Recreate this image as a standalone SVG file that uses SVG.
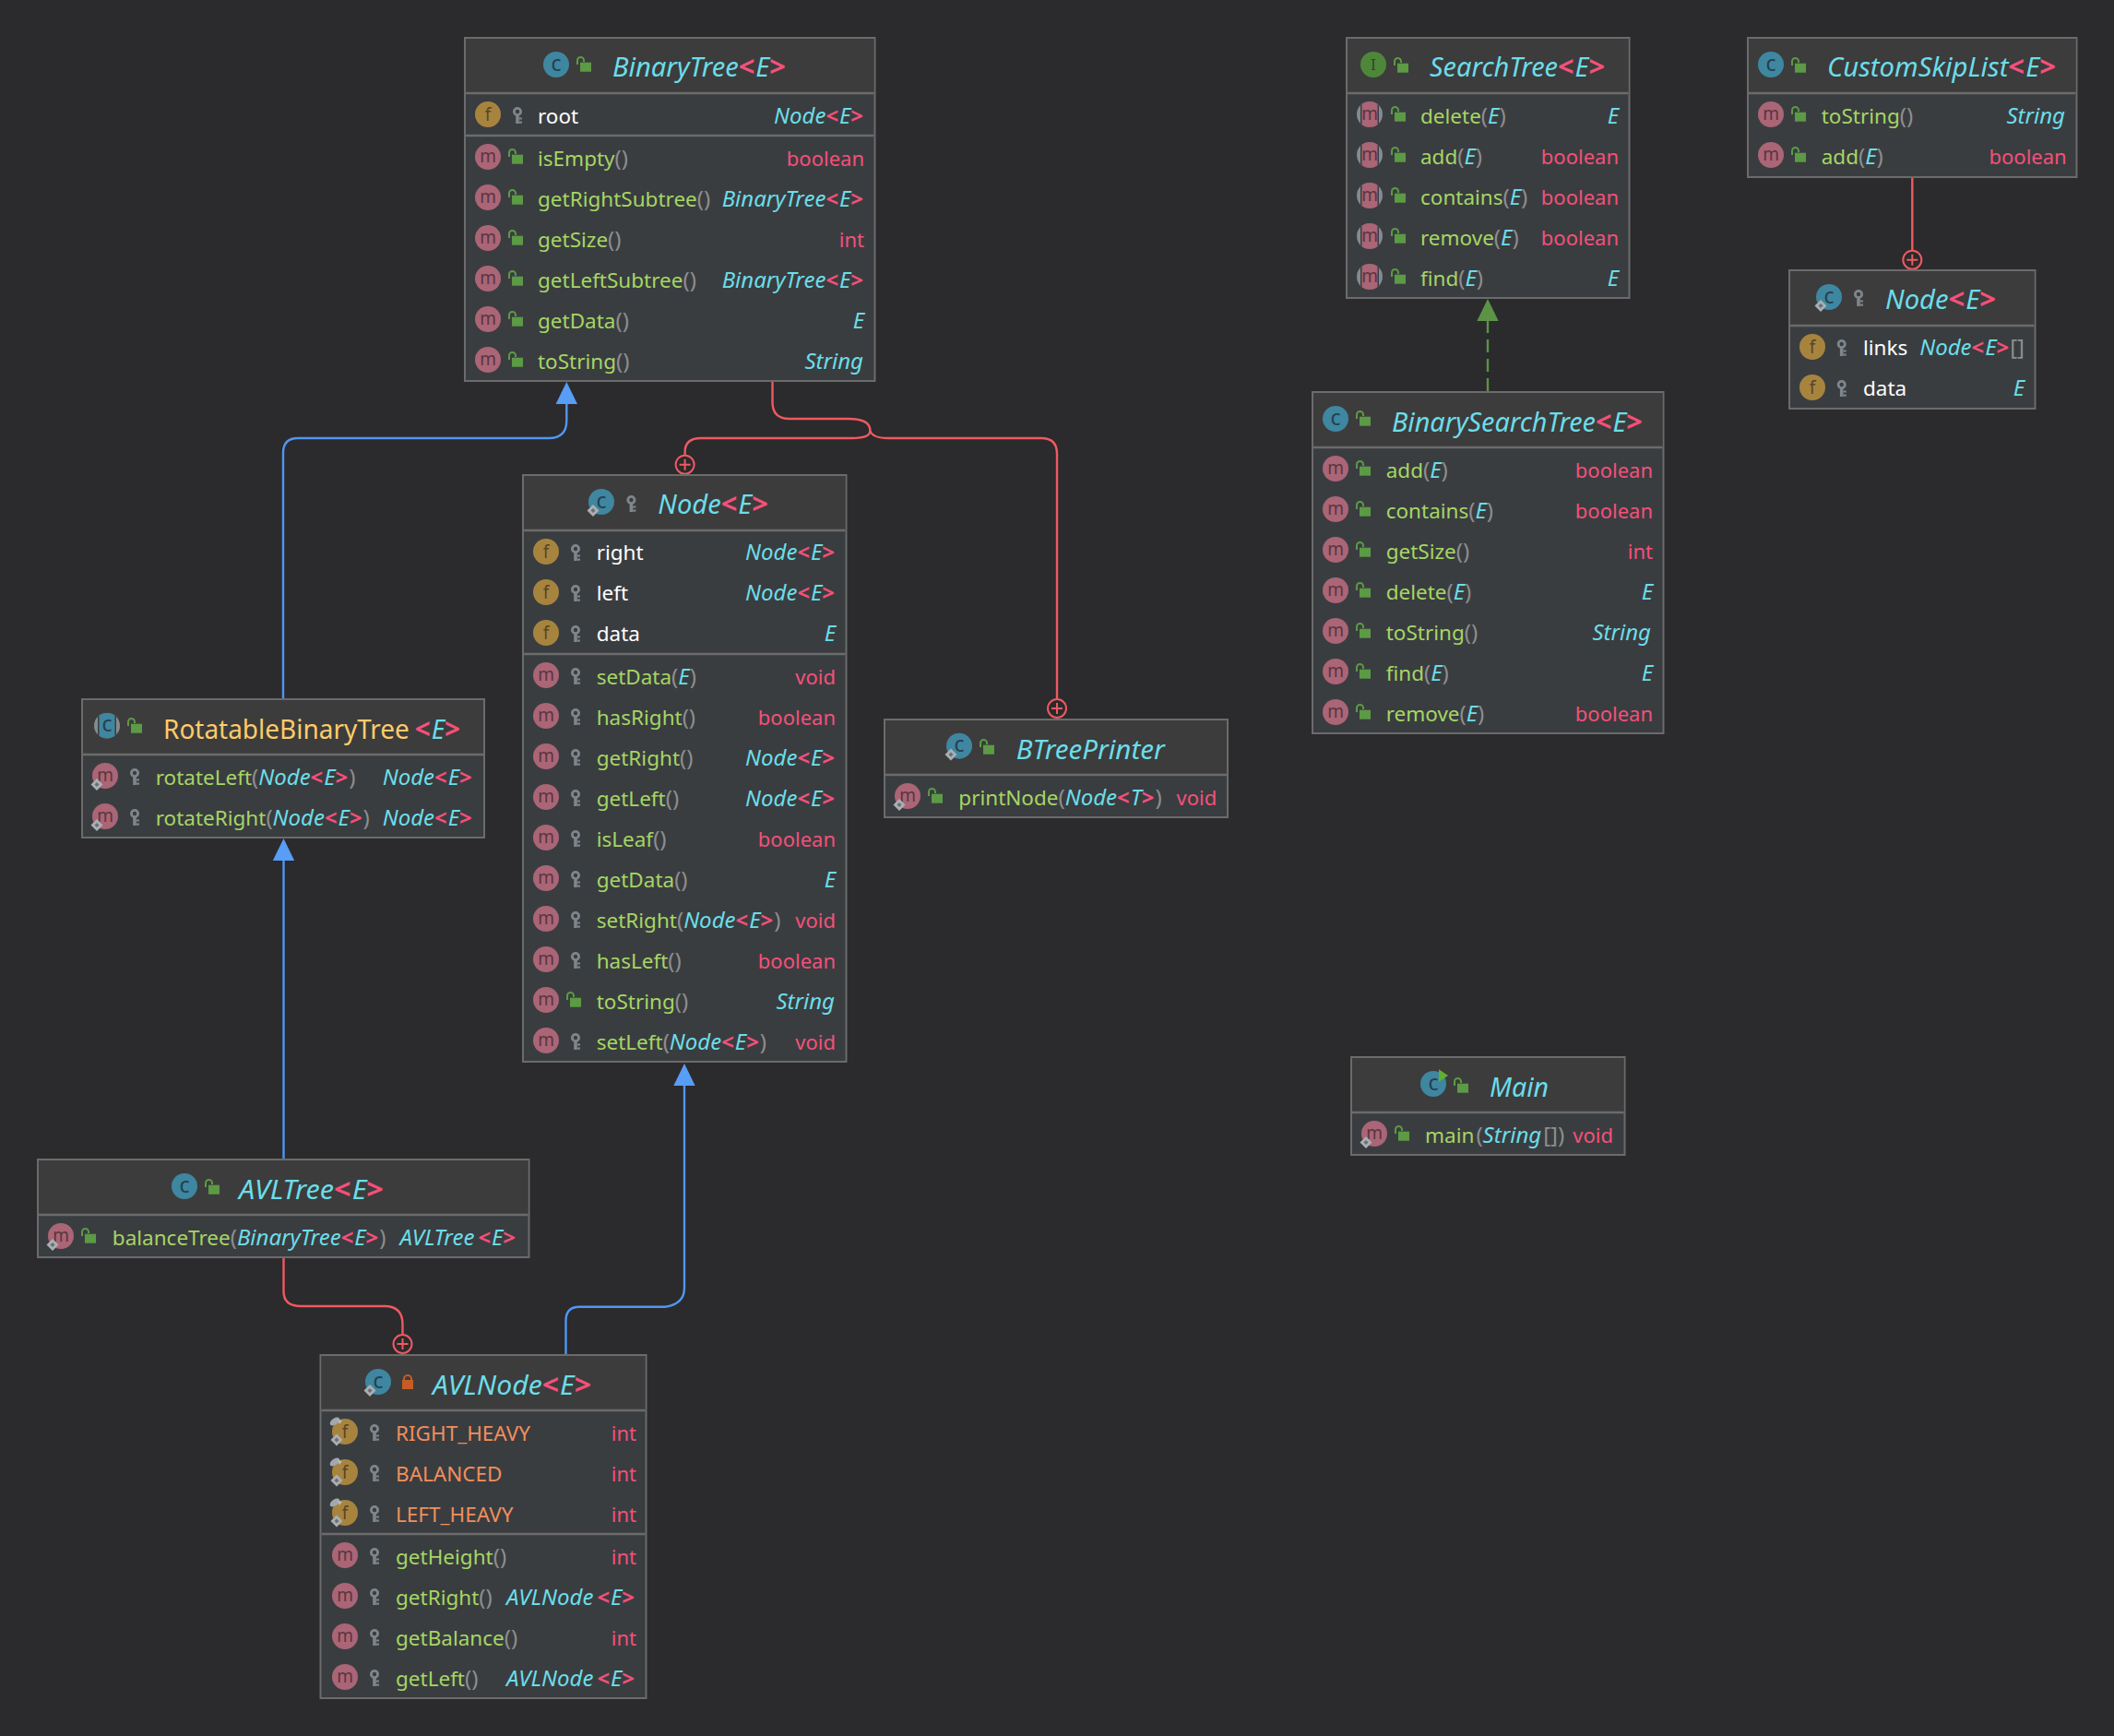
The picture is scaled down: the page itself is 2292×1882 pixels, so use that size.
<svg xmlns="http://www.w3.org/2000/svg" width="2292" height="1882" viewBox="0 0 2292 1882">
<style>
text{font-family:"Noto Sans","Open Sans","Liberation Sans",sans-serif;font-size:22.500px;white-space:pre}
.ti{font-size:28.500px;font-style:italic;fill:#6CDDE9}
.e{text-anchor:end}
.g{fill:#A5D664}.w{fill:#FFFFFF}.c{fill:#6CDDE9;font-style:italic;font-size:24px}.k{fill:#F4507A;font-weight:700;font-style:normal;letter-spacing:1px;font-size:1.060em}
.n{fill:#F4507A;font-size:22px}.p{fill:#8E8E8E;font-size:24px}.o{fill:#F08F5C}.y{fill:#FFCB6B;font-style:normal}
.box{fill:#3A3D40;stroke:#6B6B6B;stroke-width:2}
.hd{fill:#3C3C3C}
.sep{stroke:#6B6B6B;stroke-width:2.400}
.il{font-size:19px;text-anchor:middle}
.ic{font-size:23px;text-anchor:middle}
.con{fill:none;stroke-width:2.400}
.red{stroke:#EE5A60}.blue{stroke:#4F97F2}.grn{stroke:#5C9346;stroke-dasharray:14 7}
</style>
<defs>
<clipPath id="cl"><circle r="14"/></clipPath>
<g id="m"><circle r="14" fill="#AA6576"/><text class="il" y="6" fill="#5B3540">m</text></g>
<g id="f"><circle r="14" fill="#A7843E"/><text class="il" y="7" fill="#5A4526">f</text></g>
<g id="cI"><circle r="14" fill="#3F86A1"/><text class="ic" y="6.500" fill="#24404E">c</text></g>
<g id="iI"><circle r="14" fill="#4E8739"/><text y="6" text-anchor="middle" fill="#2B4A20" style="font-family:'DejaVu Serif',serif;font-size:16px">I</text></g>
<g id="am"><g clip-path="url(#cl)"><rect x="-14" y="-14" width="28" height="28" fill="#848A90"/><rect x="-10" y="-14" width="20" height="28" fill="#3A3D40"/><rect x="-8.500" y="-14" width="17" height="28" fill="#AA6576"/></g><text class="il" y="6" fill="#5B3540">m</text></g>
<g id="ac"><g clip-path="url(#cl)"><rect x="-14" y="-14" width="28" height="28" fill="#848A90"/><rect x="-10" y="-14" width="20" height="28" fill="#3C3C3C"/><rect x="-8.500" y="-14" width="17" height="28" fill="#3F86A1"/></g><text class="ic" y="6.500" fill="#24404E">c</text></g>
<g id="dm"><polygon points="0,-6.500 6.500,0 0,6.500 -6.500,0" fill="#A9AFB3"/><polygon points="0,-2.500 2.500,0 0,2.500 -2.500,0" fill="#6B6E72"/></g>
<g id="pin"><ellipse rx="6" ry="3.500" transform="rotate(-35)" fill="#A2A8AD"/><polygon points="3,-2 8,-1 5,3" fill="#B9BDC0"/></g>
<g id="pub"><rect x="-4" y="-2.300" width="12" height="10" fill="#5C9A45"/><path d="M-7 0V-4.500a3.500 3.500 0 0 1 7 0V-3" fill="none" stroke="#5C9A45" stroke-width="2"/></g>
<g id="pri"><rect x="-6" y="-2" width="12" height="10" fill="#C65C24"/><path d="M-4-2V-3a4 4 0 0 1 8 0V-2" fill="none" stroke="#C65C24" stroke-width="2"/></g>
<g id="key" fill="#7E868C"><circle cy="-3" r="3.600" fill="none" stroke="#7E868C" stroke-width="2.800"/><rect x="-1.800" y="0" width="3.600" height="10"/><rect x="1.800" y="3.500" width="3.200" height="2"/><rect x="1.800" y="7.500" width="3.200" height="2.200"/></g>
<marker id="ab" viewBox="0 0 24 24" refX="0" refY="12" markerWidth="24" markerHeight="24" markerUnits="userSpaceOnUse" orient="auto"><path d="M0 0.300L24 12L0 23.700Z" fill="#589DF6"/></marker>
<marker id="ag" viewBox="0 0 24 24" refX="0" refY="12" markerWidth="24" markerHeight="24" markerUnits="userSpaceOnUse" orient="auto"><path d="M0 0.300L24 12L0 23.700Z" fill="#5C9346"/></marker>
<marker id="pl" viewBox="0 0 24 24" refX="1.500" refY="12" markerWidth="24" markerHeight="24" markerUnits="userSpaceOnUse" orient="auto"><circle cx="12" cy="12" r="10" fill="#2B2A2D" stroke="#EE5A60" stroke-width="2"/><path d="M6 12H18M12 6V18" stroke="#EE5A60" stroke-width="2" fill="none"/></marker>
</defs>
<rect width="2292" height="1882" fill="#2B2A2D"/>
<g id="connectors">
<path class="con blue" d="M307 758V491Q307 475 323 475H595Q614.300 475 614.300 456V438" marker-end="url(#ab)"/>
<path class="con blue" d="M307.500 1257V933" marker-end="url(#ab)"/>
<path class="con blue" d="M613.500 1468V1432Q613.500 1416.700 628 1416.700H721Q742 1414 742 1396V1177" marker-end="url(#ab)"/>
<path class="con grn" d="M1613 424V348" marker-end="url(#ag)"/>
<path class="con red" d="M307.500 1363V1400Q307.500 1416 326 1416H417Q436.500 1416 436.500 1436V1446.500" marker-end="url(#pl)"/>
<path class="con red" d="M837.500 413V436Q837.500 454 856 454H920Q943.400 454 943.400 467Q943.400 475 924 475H760Q742.600 475 742.600 490V493.200" marker-end="url(#pl)"/>
<path class="con red" d="M943.400 467Q946 475 963 475H1129Q1146 475 1146 492V757.500" marker-end="url(#pl)"/>
<path class="con red" d="M2073.300 192V271.200" marker-end="url(#pl)"/>
</g>
<g id="node-BinaryTree">
<rect class="box" x="504" y="41" width="444.500" height="372"/><rect class="hd" x="505" y="42" width="442.500" height="59"/><line class="sep" x1="505" x2="947.500" y1="101" y2="101"/><line class="sep" x1="505" x2="947.500" y1="147" y2="147"/>
<use href="#cI" x="603" y="70"/><use href="#pub" x="633" y="70"/>
<text class="ti" x="664" y="83.300" textLength="189" lengthAdjust="spacingAndGlyphs"><tspan>BinaryTree</tspan><tspan class="k">&lt;</tspan><tspan>E</tspan><tspan class="k">&gt;</tspan></text>
<use href="#f" x="529" y="124"/><use href="#key" x="561" y="124"/><text x="583" y="133.500"><tspan class="w">root</tspan></text><text class="e" x="937" y="133.500"><tspan class="c">Node</tspan><tspan class="k">&lt;</tspan><tspan class="c">E</tspan><tspan class="k">&gt;</tspan></text>
<use href="#m" x="529" y="170"/><use href="#pub" x="559" y="170"/><text x="583" y="180"><tspan class="g">isEmpty</tspan><tspan class="p">()</tspan></text><text class="e n" x="937" y="180">boolean</text>
<use href="#m" x="529" y="214"/><use href="#pub" x="559" y="214"/><text x="583" y="224"><tspan class="g">getRightSubtree</tspan><tspan class="p">()</tspan></text><text class="e" x="937" y="224"><tspan class="c">BinaryTree</tspan><tspan class="k">&lt;</tspan><tspan class="c">E</tspan><tspan class="k">&gt;</tspan></text>
<use href="#m" x="529" y="258"/><use href="#pub" x="559" y="258"/><text x="583" y="268"><tspan class="g">getSize</tspan><tspan class="p">()</tspan></text><text class="e n" x="937" y="268">int</text>
<use href="#m" x="529" y="302"/><use href="#pub" x="559" y="302"/><text x="583" y="312"><tspan class="g">getLeftSubtree</tspan><tspan class="p">()</tspan></text><text class="e" x="937" y="312"><tspan class="c">BinaryTree</tspan><tspan class="k">&lt;</tspan><tspan class="c">E</tspan><tspan class="k">&gt;</tspan></text>
<use href="#m" x="529" y="346"/><use href="#pub" x="559" y="346"/><text x="583" y="356"><tspan class="g">getData</tspan><tspan class="p">()</tspan></text><text class="e c" x="937" y="356">E</text>
<use href="#m" x="529" y="390"/><use href="#pub" x="559" y="390"/><text x="583" y="400"><tspan class="g">toString</tspan><tspan class="p">()</tspan></text><text class="e c" x="936" y="400">String</text>
</g>
<g id="node-Node">
<rect class="box" x="567" y="515" width="350.500" height="636"/><rect class="hd" x="568" y="516" width="348.500" height="59"/><line class="sep" x1="568" x2="916.500" y1="575" y2="575"/><line class="sep" x1="568" x2="916.500" y1="709" y2="709"/>
<use href="#cI" x="652" y="544"/><use href="#dm" x="643" y="553.500"/><use href="#key" x="684.400" y="545"/>
<text class="ti" x="713.300" y="557" textLength="120.700" lengthAdjust="spacingAndGlyphs"><tspan>Node</tspan><tspan class="k">&lt;</tspan><tspan>E</tspan><tspan class="k">&gt;</tspan></text>
<use href="#f" x="592" y="598"/><use href="#key" x="624" y="598"/><text x="646.700" y="607"><tspan class="w">right</tspan></text><text class="e" x="906" y="607"><tspan class="c">Node</tspan><tspan class="k">&lt;</tspan><tspan class="c">E</tspan><tspan class="k">&gt;</tspan></text>
<use href="#f" x="592" y="642"/><use href="#key" x="624" y="642"/><text x="646.700" y="651"><tspan class="w">left</tspan></text><text class="e" x="906" y="651"><tspan class="c">Node</tspan><tspan class="k">&lt;</tspan><tspan class="c">E</tspan><tspan class="k">&gt;</tspan></text>
<use href="#f" x="592" y="686"/><use href="#key" x="624" y="686"/><text x="646.700" y="695"><tspan class="w">data</tspan></text><text class="e c" x="906" y="695">E</text>
<use href="#m" x="592" y="732"/><use href="#key" x="624" y="732"/><text x="646.700" y="742"><tspan class="g">setData</tspan><tspan class="p">(</tspan><tspan class="c">E</tspan><tspan class="p">)</tspan></text><text class="e n" x="906" y="742">void</text>
<use href="#m" x="592" y="776"/><use href="#key" x="624" y="776"/><text x="646.700" y="786"><tspan class="g">hasRight</tspan><tspan class="p">()</tspan></text><text class="e n" x="906" y="786">boolean</text>
<use href="#m" x="592" y="820"/><use href="#key" x="624" y="820"/><text x="646.700" y="830"><tspan class="g">getRight</tspan><tspan class="p">()</tspan></text><text class="e" x="906" y="830"><tspan class="c">Node</tspan><tspan class="k">&lt;</tspan><tspan class="c">E</tspan><tspan class="k">&gt;</tspan></text>
<use href="#m" x="592" y="864"/><use href="#key" x="624" y="864"/><text x="646.700" y="874"><tspan class="g">getLeft</tspan><tspan class="p">()</tspan></text><text class="e" x="906" y="874"><tspan class="c">Node</tspan><tspan class="k">&lt;</tspan><tspan class="c">E</tspan><tspan class="k">&gt;</tspan></text>
<use href="#m" x="592" y="908"/><use href="#key" x="624" y="908"/><text x="646.700" y="918"><tspan class="g">isLeaf</tspan><tspan class="p">()</tspan></text><text class="e n" x="906" y="918">boolean</text>
<use href="#m" x="592" y="952"/><use href="#key" x="624" y="952"/><text x="646.700" y="962"><tspan class="g">getData</tspan><tspan class="p">()</tspan></text><text class="e c" x="906" y="962">E</text>
<use href="#m" x="592" y="996"/><use href="#key" x="624" y="996"/><text x="646.700" y="1006"><tspan class="g">setRight</tspan><tspan class="p">(</tspan><tspan class="c">Node</tspan><tspan class="k">&lt;</tspan><tspan class="c">E</tspan><tspan class="k">&gt;</tspan><tspan class="p">)</tspan></text><text class="e n" x="906" y="1006">void</text>
<use href="#m" x="592" y="1040"/><use href="#key" x="624" y="1040"/><text x="646.700" y="1050"><tspan class="g">hasLeft</tspan><tspan class="p">()</tspan></text><text class="e n" x="906" y="1050">boolean</text>
<use href="#m" x="592" y="1084"/><use href="#pub" x="622" y="1084"/><text x="646.700" y="1094"><tspan class="g">toString</tspan><tspan class="p">()</tspan></text><text class="e c" x="905" y="1094">String</text>
<use href="#m" x="592" y="1128"/><use href="#key" x="624" y="1128"/><text x="646.700" y="1138"><tspan class="g">setLeft</tspan><tspan class="p">(</tspan><tspan class="c">Node</tspan><tspan class="k">&lt;</tspan><tspan class="c">E</tspan><tspan class="k">&gt;</tspan><tspan class="p">)</tspan></text><text class="e n" x="906" y="1138">void</text>
</g>
<g id="node-BTreePrinter">
<rect class="box" x="959" y="780" width="372" height="106"/><rect class="hd" x="960" y="781" width="370" height="59"/><line class="sep" x1="960" x2="1330" y1="840" y2="840"/>
<use href="#cI" x="1040" y="808.700"/><use href="#dm" x="1031" y="818"/><use href="#pub" x="1070" y="810"/>
<text class="ti" x="1101.700" y="823.300" textLength="161" lengthAdjust="spacingAndGlyphs">BTreePrinter</text>
<use href="#m" x="984" y="863"/><use href="#dm" x="975" y="872.500"/><use href="#pub" x="1014" y="863"/><text x="1039.300" y="873"><tspan class="g">printNode</tspan><tspan class="p">(</tspan><tspan class="c">Node</tspan><tspan class="k">&lt;</tspan><tspan class="c">T</tspan><tspan class="k">&gt;</tspan><tspan class="p">)</tspan></text><text class="e n" x="1319.300" y="873">void</text>
</g>
<g id="node-RotatableBinaryTree">
<rect class="box" x="89" y="758" width="436" height="150"/><rect class="hd" x="90" y="759" width="434" height="59"/><line class="sep" x1="90" x2="524" y1="818" y2="818"/>
<use href="#ac" x="116" y="786.700"/><use href="#pub" x="146" y="787"/>
<text class="ti" x="177" y="800.700" textLength="323" lengthAdjust="spacingAndGlyphs"><tspan class="y">RotatableBinaryTree</tspan><tspan class="k" dx="6">&lt;</tspan><tspan>E</tspan><tspan class="k">&gt;</tspan></text>
<use href="#m" x="114" y="841"/><use href="#dm" x="105" y="850.500"/><use href="#key" x="146" y="841"/><text x="168.700" y="851"><tspan class="g">rotateLeft</tspan><tspan class="p">(</tspan><tspan class="c">Node</tspan><tspan class="k">&lt;</tspan><tspan class="c">E</tspan><tspan class="k">&gt;</tspan><tspan class="p">)</tspan></text><text class="e" x="512.700" y="851"><tspan class="c">Node</tspan><tspan class="k">&lt;</tspan><tspan class="c">E</tspan><tspan class="k">&gt;</tspan></text>
<use href="#m" x="114" y="885"/><use href="#dm" x="105" y="894.500"/><use href="#key" x="146" y="885"/><text x="168.700" y="895"><tspan class="g">rotateRight</tspan><tspan class="p">(</tspan><tspan class="c">Node</tspan><tspan class="k">&lt;</tspan><tspan class="c">E</tspan><tspan class="k">&gt;</tspan><tspan class="p">)</tspan></text><text class="e" x="512.700" y="895"><tspan class="c">Node</tspan><tspan class="k">&lt;</tspan><tspan class="c">E</tspan><tspan class="k">&gt;</tspan></text>
</g>
<g id="node-AVLTree">
<rect class="box" x="41" y="1257" width="532.500" height="106"/><rect class="hd" x="42" y="1258" width="530.500" height="59"/><line class="sep" x1="42" x2="572.500" y1="1317" y2="1317"/>
<use href="#cI" x="200" y="1286"/><use href="#pub" x="230" y="1287"/>
<text class="ti" x="259" y="1300" textLength="158" lengthAdjust="spacingAndGlyphs"><tspan>AVLTree</tspan><tspan class="k">&lt;</tspan><tspan>E</tspan><tspan class="k">&gt;</tspan></text>
<use href="#m" x="66" y="1340"/><use href="#dm" x="57" y="1349.500"/><use href="#pub" x="96" y="1340"/><text x="121.800" y="1350"><tspan class="g">balanceTree</tspan><tspan class="p">(</tspan><tspan class="c">BinaryTree</tspan><tspan class="k">&lt;</tspan><tspan class="c">E</tspan><tspan class="k">&gt;</tspan><tspan class="p">)</tspan></text><text class="e" x="560" y="1350"><tspan class="c">AVLTree</tspan><tspan class="k" dx="4">&lt;</tspan><tspan class="c">E</tspan><tspan class="k">&gt;</tspan></text>
</g>
<g id="node-AVLNode">
<rect class="box" x="347.500" y="1469" width="353" height="372"/><rect class="hd" x="348.500" y="1470" width="351" height="59"/><line class="sep" x1="348.500" x2="699.500" y1="1529" y2="1529"/><line class="sep" x1="348.500" x2="699.500" y1="1663" y2="1663"/>
<use href="#cI" x="410" y="1498"/><use href="#dm" x="401" y="1507.500"/><use href="#pri" x="442" y="1498"/>
<text class="ti" x="469" y="1511.700" textLength="173" lengthAdjust="spacingAndGlyphs"><tspan>AVLNode</tspan><tspan class="k">&lt;</tspan><tspan>E</tspan><tspan class="k">&gt;</tspan></text>
<use href="#f" x="374" y="1552"/><use href="#pin" x="363" y="1541"/><use href="#dm" x="365" y="1561"/><use href="#key" x="406" y="1552"/><text x="429" y="1562" class="o">RIGHT_HEAVY</text><text class="e n" x="690" y="1562">int</text>
<use href="#f" x="374" y="1596"/><use href="#pin" x="363" y="1585"/><use href="#dm" x="365" y="1605"/><use href="#key" x="406" y="1596"/><text x="429" y="1606" class="o">BALANCED</text><text class="e n" x="690" y="1606">int</text>
<use href="#f" x="374" y="1640"/><use href="#pin" x="363" y="1629"/><use href="#dm" x="365" y="1649"/><use href="#key" x="406" y="1640"/><text x="429" y="1650" class="o">LEFT_HEAVY</text><text class="e n" x="690" y="1650">int</text>
<use href="#m" x="374" y="1686"/><use href="#key" x="406" y="1686"/><text x="429" y="1696"><tspan class="g">getHeight</tspan><tspan class="p">()</tspan></text><text class="e n" x="690" y="1696">int</text>
<use href="#m" x="374" y="1730"/><use href="#key" x="406" y="1730"/><text x="429" y="1740"><tspan class="g">getRight</tspan><tspan class="p">()</tspan></text><text class="e" x="689" y="1740"><tspan class="c">AVLNode</tspan><tspan class="k" dx="4">&lt;</tspan><tspan class="c">E</tspan><tspan class="k">&gt;</tspan></text>
<use href="#m" x="374" y="1774"/><use href="#key" x="406" y="1774"/><text x="429" y="1784"><tspan class="g">getBalance</tspan><tspan class="p">()</tspan></text><text class="e n" x="690" y="1784">int</text>
<use href="#m" x="374" y="1818"/><use href="#key" x="406" y="1818"/><text x="429" y="1828"><tspan class="g">getLeft</tspan><tspan class="p">()</tspan></text><text class="e" x="689" y="1828"><tspan class="c">AVLNode</tspan><tspan class="k" dx="4">&lt;</tspan><tspan class="c">E</tspan><tspan class="k">&gt;</tspan></text>
</g>
<g id="node-SearchTree">
<rect class="box" x="1460" y="41" width="306.500" height="282"/><rect class="hd" x="1461" y="42" width="304.500" height="59"/><line class="sep" x1="1461" x2="1765.500" y1="101" y2="101"/>
<use href="#iI" x="1489" y="70"/><use href="#pub" x="1519" y="71"/>
<text class="ti" x="1550" y="83.300" textLength="191" lengthAdjust="spacingAndGlyphs"><tspan>SearchTree</tspan><tspan class="k">&lt;</tspan><tspan>E</tspan><tspan class="k">&gt;</tspan></text>
<use href="#am" x="1485" y="124"/><use href="#pub" x="1516" y="124"/><text x="1540" y="134"><tspan class="g">delete</tspan><tspan class="p">(</tspan><tspan class="c">E</tspan><tspan class="p">)</tspan></text><text class="e c" x="1755" y="134">E</text>
<use href="#am" x="1485" y="168"/><use href="#pub" x="1516" y="168"/><text x="1540" y="178"><tspan class="g">add</tspan><tspan class="p">(</tspan><tspan class="c">E</tspan><tspan class="p">)</tspan></text><text class="e n" x="1755" y="178">boolean</text>
<use href="#am" x="1485" y="212"/><use href="#pub" x="1516" y="212"/><text x="1540" y="222"><tspan class="g">contains</tspan><tspan class="p">(</tspan><tspan class="c">E</tspan><tspan class="p">)</tspan></text><text class="e n" x="1755" y="222">boolean</text>
<use href="#am" x="1485" y="256"/><use href="#pub" x="1516" y="256"/><text x="1540" y="266"><tspan class="g">remove</tspan><tspan class="p">(</tspan><tspan class="c">E</tspan><tspan class="p">)</tspan></text><text class="e n" x="1755" y="266">boolean</text>
<use href="#am" x="1485" y="300"/><use href="#pub" x="1516" y="300"/><text x="1540" y="310"><tspan class="g">find</tspan><tspan class="p">(</tspan><tspan class="c">E</tspan><tspan class="p">)</tspan></text><text class="e c" x="1755" y="310">E</text>
</g>
<g id="node-BinarySearchTree">
<rect class="box" x="1423" y="425" width="380.500" height="370"/><rect class="hd" x="1424" y="426" width="378.500" height="59"/><line class="sep" x1="1424" x2="1802.500" y1="485" y2="485"/>
<use href="#cI" x="1448" y="454"/><use href="#pub" x="1478" y="454"/>
<text class="ti" x="1509" y="467.700" textLength="272.700" lengthAdjust="spacingAndGlyphs"><tspan>BinarySearchTree</tspan><tspan class="k">&lt;</tspan><tspan>E</tspan><tspan class="k">&gt;</tspan></text>
<use href="#m" x="1448" y="508"/><use href="#pub" x="1478" y="508"/><text x="1502.700" y="518"><tspan class="g">add</tspan><tspan class="p">(</tspan><tspan class="c">E</tspan><tspan class="p">)</tspan></text><text class="e n" x="1792" y="518">boolean</text>
<use href="#m" x="1448" y="552"/><use href="#pub" x="1478" y="552"/><text x="1502.700" y="562"><tspan class="g">contains</tspan><tspan class="p">(</tspan><tspan class="c">E</tspan><tspan class="p">)</tspan></text><text class="e n" x="1792" y="562">boolean</text>
<use href="#m" x="1448" y="596"/><use href="#pub" x="1478" y="596"/><text x="1502.700" y="606"><tspan class="g">getSize</tspan><tspan class="p">()</tspan></text><text class="e n" x="1792" y="606">int</text>
<use href="#m" x="1448" y="640"/><use href="#pub" x="1478" y="640"/><text x="1502.700" y="650"><tspan class="g">delete</tspan><tspan class="p">(</tspan><tspan class="c">E</tspan><tspan class="p">)</tspan></text><text class="e c" x="1792" y="650">E</text>
<use href="#m" x="1448" y="684"/><use href="#pub" x="1478" y="684"/><text x="1502.700" y="694"><tspan class="g">toString</tspan><tspan class="p">()</tspan></text><text class="e c" x="1790" y="694">String</text>
<use href="#m" x="1448" y="728"/><use href="#pub" x="1478" y="728"/><text x="1502.700" y="738"><tspan class="g">find</tspan><tspan class="p">(</tspan><tspan class="c">E</tspan><tspan class="p">)</tspan></text><text class="e c" x="1792" y="738">E</text>
<use href="#m" x="1448" y="772"/><use href="#pub" x="1478" y="772"/><text x="1502.700" y="782"><tspan class="g">remove</tspan><tspan class="p">(</tspan><tspan class="c">E</tspan><tspan class="p">)</tspan></text><text class="e n" x="1792" y="782">boolean</text>
</g>
<g id="node-CustomSkipList">
<rect class="box" x="1895" y="41" width="356.500" height="151"/><rect class="hd" x="1896" y="42" width="354.500" height="59"/><line class="sep" x1="1896" x2="2250.500" y1="101" y2="101"/>
<use href="#cI" x="1920" y="70"/><use href="#pub" x="1950" y="71"/>
<text class="ti" x="1981" y="83.300" textLength="249" lengthAdjust="spacingAndGlyphs"><tspan>CustomSkipList</tspan><tspan class="k">&lt;</tspan><tspan>E</tspan><tspan class="k">&gt;</tspan></text>
<use href="#m" x="1920" y="124"/><use href="#pub" x="1950" y="124"/><text x="1974.700" y="134"><tspan class="g">toString</tspan><tspan class="p">()</tspan></text><text class="e c" x="2239" y="134">String</text>
<use href="#m" x="1920" y="168"/><use href="#pub" x="1950" y="168"/><text x="1974.700" y="178"><tspan class="g">add</tspan><tspan class="p">(</tspan><tspan class="c">E</tspan><tspan class="p">)</tspan></text><text class="e n" x="2240.700" y="178">boolean</text>
</g>
<g id="node-SkipNode">
<rect class="box" x="1940" y="293" width="266.500" height="150"/><rect class="hd" x="1941" y="294" width="264.500" height="59"/><line class="sep" x1="1941" x2="2205.500" y1="353" y2="353"/>
<use href="#cI" x="1983" y="322"/><use href="#dm" x="1974" y="331.500"/><use href="#key" x="2015" y="322"/>
<text class="ti" x="2044" y="335" textLength="121" lengthAdjust="spacingAndGlyphs"><tspan>Node</tspan><tspan class="k">&lt;</tspan><tspan>E</tspan><tspan class="k">&gt;</tspan></text>
<use href="#f" x="1965" y="376"/><use href="#key" x="1996.700" y="376"/><text x="2020" y="385"><tspan class="w">links</tspan></text><text class="e" x="2195" y="385"><tspan class="c">Node</tspan><tspan class="k">&lt;</tspan><tspan class="c">E</tspan><tspan class="k">&gt;</tspan><tspan class="p">[]</tspan></text>
<use href="#f" x="1965" y="420"/><use href="#key" x="1996.700" y="420"/><text x="2020" y="429"><tspan class="w">data</tspan></text><text class="e c" x="2195" y="429">E</text>
</g>
<g id="node-Main">
<rect class="box" x="1465" y="1146" width="296.500" height="106"/><rect class="hd" x="1466" y="1147" width="294.500" height="59"/><line class="sep" x1="1466" x2="1760.500" y1="1206" y2="1206"/>
<use href="#cI" x="1554" y="1175"/><polygon points="1560,1159.300 1570,1166 1560,1172.700" fill="#5FB030"/><use href="#pub" x="1584" y="1177"/>
<text class="ti" x="1615" y="1188.700" textLength="64" lengthAdjust="spacingAndGlyphs">Main</text>
<use href="#m" x="1490" y="1229"/><use href="#dm" x="1481" y="1238.500"/><use href="#pub" x="1520" y="1229"/><text x="1545" y="1238.700"><tspan class="g">main</tspan><tspan class="p" dx="2">(</tspan><tspan class="c">String</tspan><tspan class="p" dx="2">[])</tspan></text><text class="e n" x="1749" y="1238.700">void</text>
</g>
</svg>
